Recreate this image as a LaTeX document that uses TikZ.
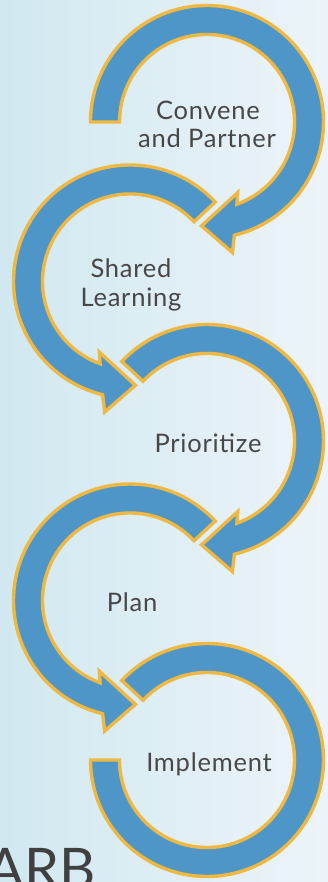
\documentclass[tikz,border=0pt]{standalone}
\usepackage{fontspec}
\setmainfont{Lato}
\definecolor{bandblue}{HTML}{4F96C8}
\definecolor{rim}{HTML}{EFB843}
\definecolor{txt}{HTML}{474747}
\definecolor{bgl}{HTML}{D1E8F0}
\definecolor{bgr}{HTML}{ECF4F9}
\begin{document}
\begin{tikzpicture}[x=1pt,y=1pt,
  band/.style={fill=bandblue, draw=rim, line width=3.4pt, line join=miter, miter limit=6},
  lbl/.style={text=txt, inner sep=0pt, anchor=base, font=\fontsize{25.5}{28}\selectfont\addfontfeature{LetterSpace=3}},
  bigtxt/.style={text=txt!90!black, inner sep=0pt, anchor=base west, font=\fontsize{56}{60}\selectfont}]
\fill[left color=bgl, right color=bgr] (0,0) rectangle (328,882);
\useasboundingbox (0,0) rectangle (328,882);
% arrow 1 (clockwise)
\begin{scope}[shift={(207,760)}]
\draw[band] (180:116.5pt) arc[start angle=180, end angle=-76.4, radius=116.5pt]
  -- (-79:133pt) -- (-93:104pt) -- (-66.5:77pt) -- (-70:87.5pt)
  arc[start angle=-70, end angle=180, radius=87.5pt] -- cycle;
\end{scope}
% arrow 2 (counterclockwise)
\begin{scope}[shift={(130,600.5)}]
\draw[band] (43:116.5pt) arc[start angle=43, end angle=256.4, radius=116.5pt]
  -- (259:133pt) -- (273:104pt) -- (246.5:77pt) -- (250:87.5pt)
  arc[start angle=250, end angle=43, radius=87.5pt] -- cycle;
\end{scope}
% arrow 3 (clockwise)
\begin{scope}[shift={(207,441)}]
\draw[band] (137:116.5pt) arc[start angle=137, end angle=-76.4, radius=116.5pt]
  -- (-79:133pt) -- (-93:104pt) -- (-66.5:77pt) -- (-70:87.5pt)
  arc[start angle=-70, end angle=137, radius=87.5pt] -- cycle;
\end{scope}
% arrow 4 (counterclockwise)
\begin{scope}[shift={(130,281.5)}]
\draw[band] (43:116.5pt) arc[start angle=43, end angle=256.4, radius=116.5pt]
  -- (259:133pt) -- (273:104pt) -- (246.5:77pt) -- (250:87.5pt)
  arc[start angle=250, end angle=43, radius=87.5pt] -- cycle;
\end{scope}
% arrow 5 (clockwise, no head)
\begin{scope}[shift={(207,122)}]
\draw[band] (137:116.5pt) arc[start angle=137, end angle=-180, radius=116.5pt]
  -- (-180:87.5pt)
  arc[start angle=-180, end angle=137, radius=87.5pt] -- cycle;
\end{scope}
% labels
\node[lbl] (convene) at (208,762) {Convene};
\node[lbl] (partner) at (207,734) {and Partner};
\node[lbl] (shared) at (131,604) {Shared};
\node[lbl] (learning) at (131,575) {Learning};
\node[lbl] (prioritize) at (208,429) {Prioritize};
\node[lbl] (plan) at (132,270) {Plan};
\node[lbl] (implement) at (209,110) {Implement};
\node[bigtxt] (arb) at (-14,-6) {ARB};
\end{tikzpicture}
\end{document}
